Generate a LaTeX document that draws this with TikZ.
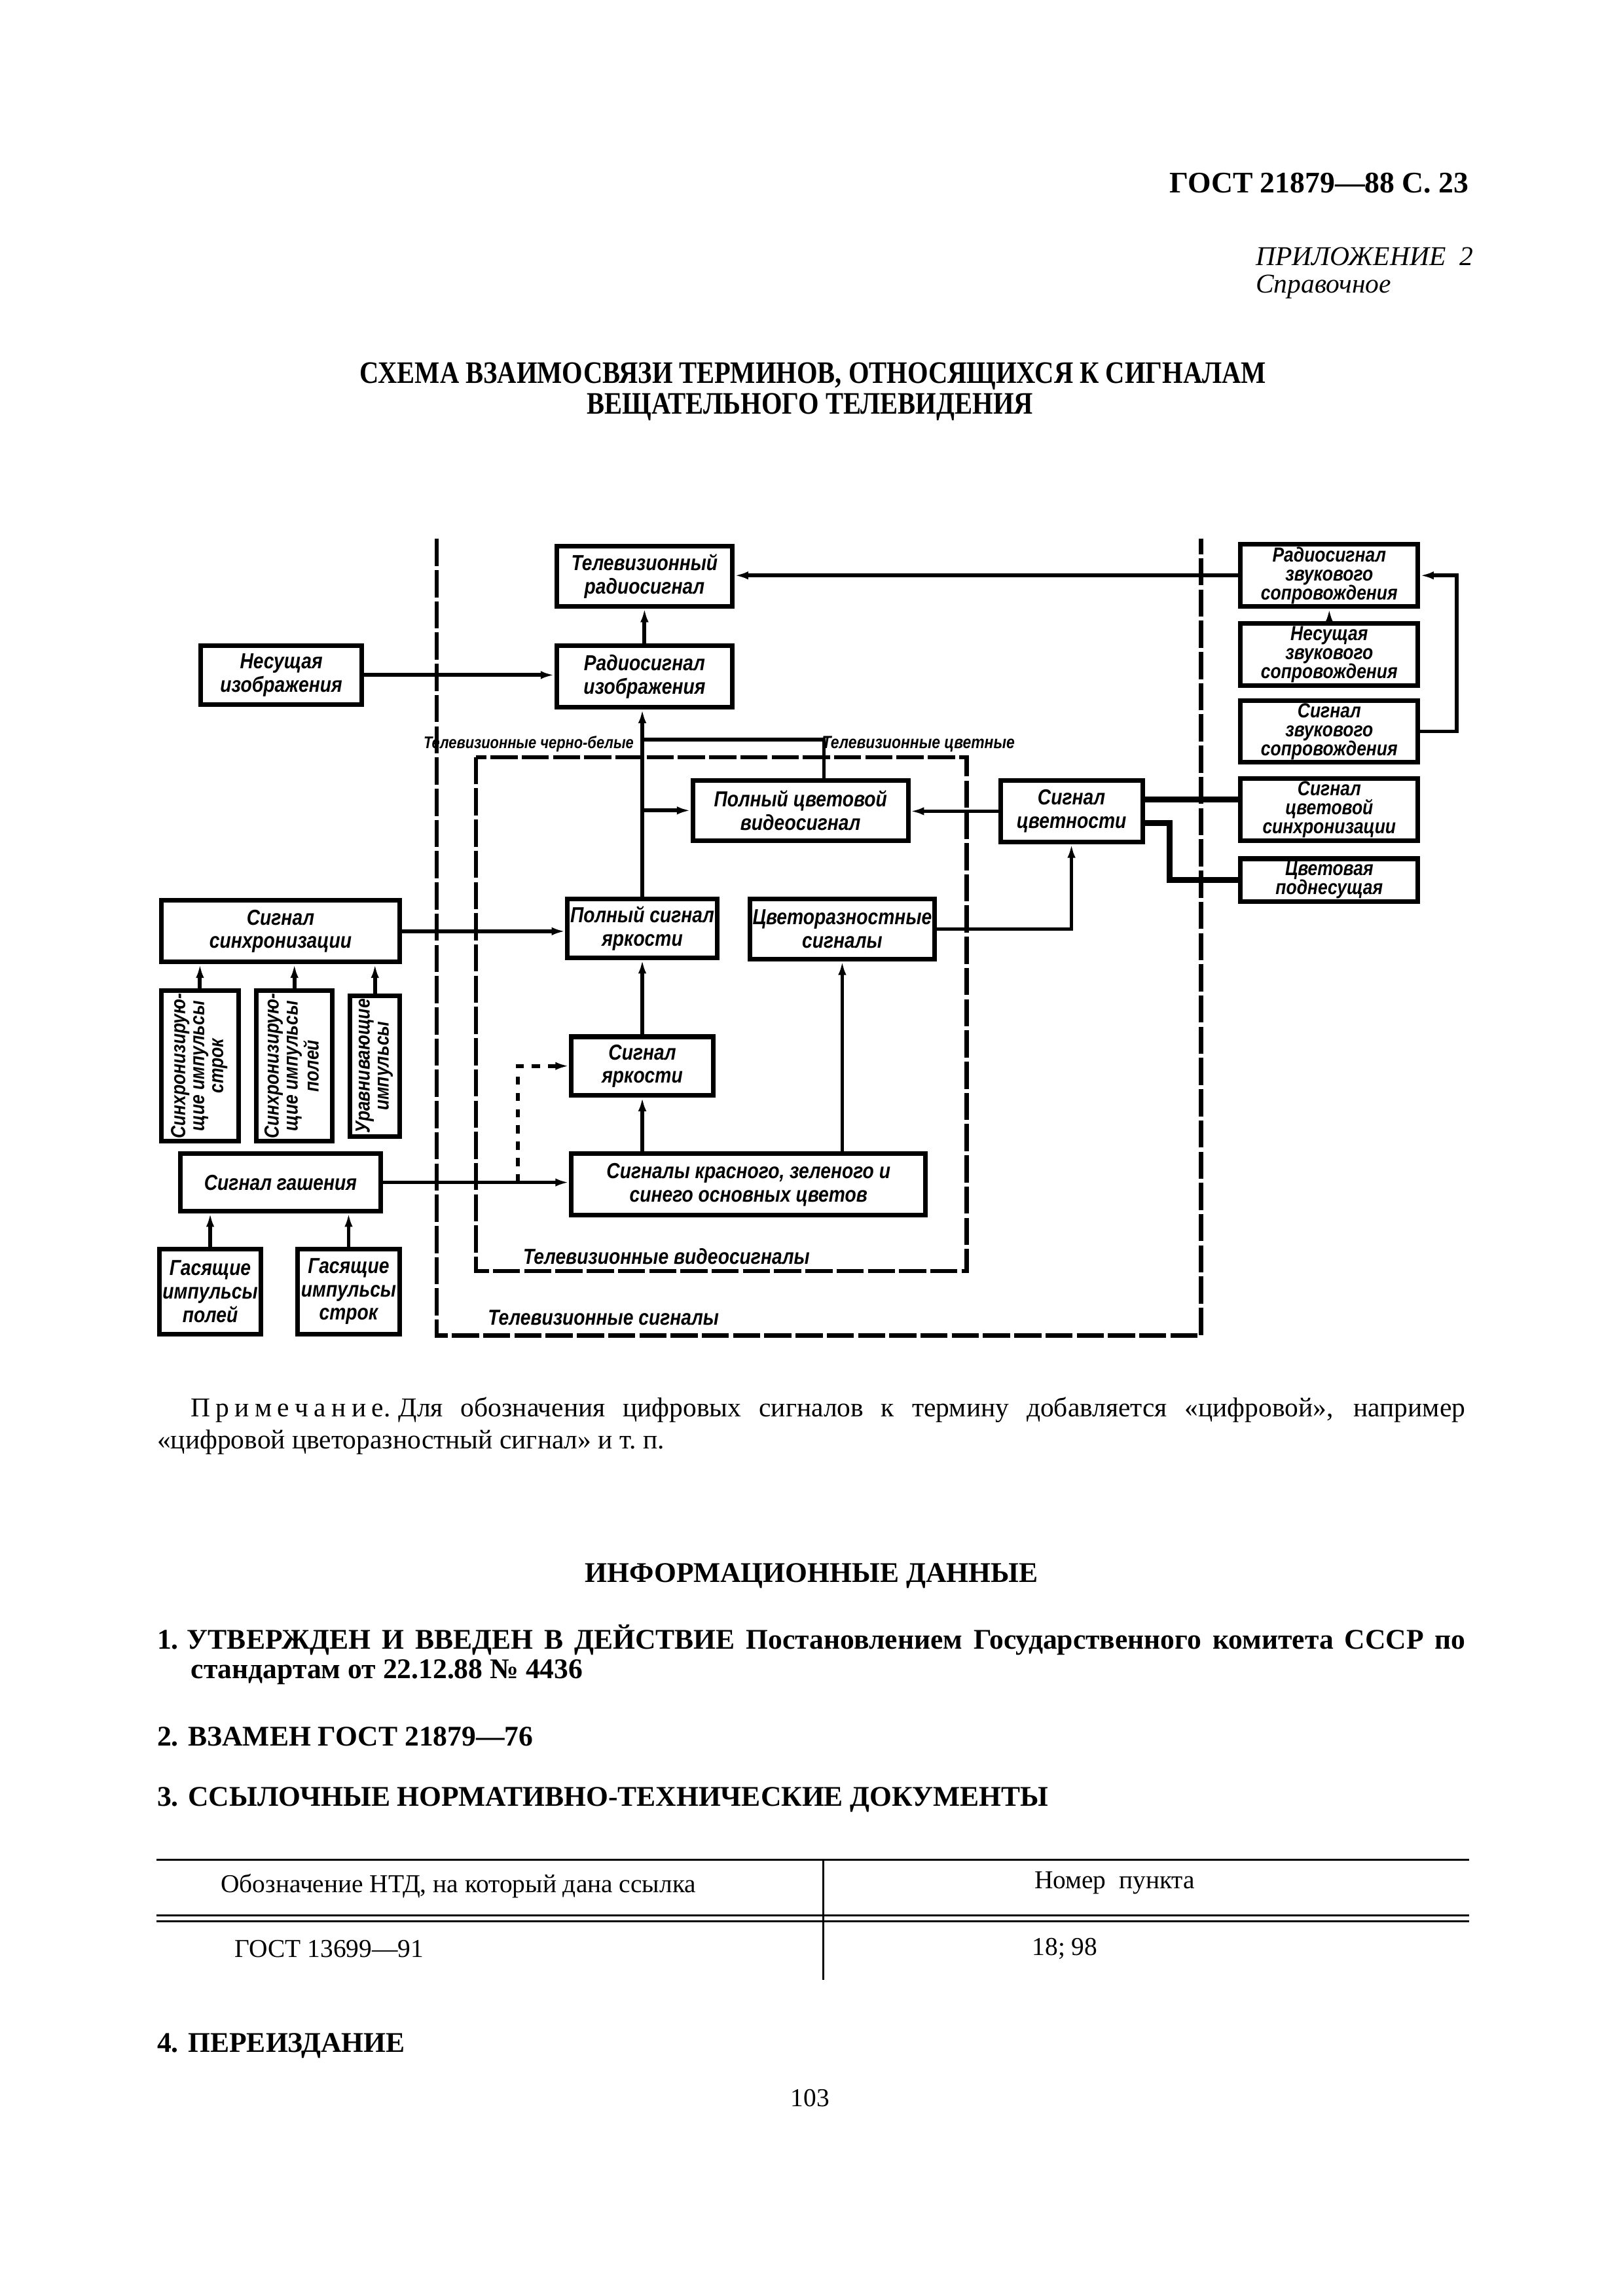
\documentclass[tikz,border=0pt]{standalone}
\usepackage{fontspec}
\setmainfont{Liberation Serif}
\newfontfamily\diagfont[FakeStretch=0.85]{Liberation Sans}
\newfontfamily\titlefont[FakeStretch=0.85]{Liberation Serif}
\usetikzlibrary{arrows.meta,calc}
\newcommand{\pxu}{0.018953cm}

\begin{document}
\begin{tikzpicture}[x=0.018953cm, y=-0.018953cm,
  box/.style={draw, line width=1.7pt, inner sep=1pt, align=center,
    font=\diagfont\bfseries\itshape\fontsize{8}{8.6}\selectfont},
  tight/.style={font=\diagfont\bfseries\itshape\fontsize{7.5}{7}\selectfont},
  sz/.style 2 args={minimum width=#1*\pxu, minimum height=#2*\pxu},
  link/.style={line width=1.4pt},
  arr/.style={link, -{Latex[length=5pt,width=3pt]}},
  heavy/.style={line width=2.2pt},
  frame/.style={line width=1.5pt, dash pattern=on 10pt off 1.5pt},
  lbl/.style={inner sep=0pt, font=\diagfont\bfseries\itshape\fontsize{8}{8}\selectfont},
  page/.style={inner sep=0pt, font=\fontsize{9.5}{11.5}\selectfont},
  head/.style={inner sep=0pt, font=\bfseries\fontsize{10.5}{12}\selectfont}]
  \useasboundingbox (0,0) rectangle (1108,1568);

  % шапка страницы
  \node[head, anchor=east, font=\bfseries\fontsize{11}{13}\selectfont] (gost) at (1003,125) {ГОСТ 21879—88 С. 23};
  \node[page, anchor=west, font=\itshape\fontsize{10}{12}\selectfont] (annex) at (857,175) {ПРИЛОЖЕНИЕ~~2};
  \node[page, anchor=west, font=\itshape\fontsize{10}{12}\selectfont] (refer) at (857,196) {Справочное};
  \node[inner sep=0pt, font=\titlefont\bfseries\fontsize{11.5}{13}\selectfont] (title1) at (555,257) {СХЕМА ВЗАИМОСВЯЗИ ТЕРМИНОВ, ОТНОСЯЩИХСЯ К СИГНАЛАМ};
  \node[inner sep=0pt, font=\titlefont\bfseries\fontsize{11.5}{13}\selectfont] (title2) at (553,278) {ВЕЩАТЕЛЬНОГО ТЕЛЕВИДЕНИЯ};

  % рамки
  \draw[frame] (298,368) -- (298,912) -- (820,912) -- (820,368);
  \draw[frame] (325,517) rectangle (660,868);
  \node[lbl, anchor=east, font=\diagfont\bfseries\itshape\fontsize{6.2}{7}\selectfont] (bwlbl) at (433,508) {Телевизионные черно-белые};
  \node[lbl, font=\diagfont\bfseries\itshape\fontsize{6.5}{7}\selectfont] (collbl) at (627,508) {Телевизионные цветные};
  \node[lbl] (vidlbl) at (455,858) {Телевизионные видеосигналы};
  \node[lbl] (siglbl) at (412,900) {Телевизионные сигналы};

  % блоки
  \node[box, sz={120}{41}] (tvradio) at (440,393.5) {Телевизионный\\радиосигнал};
  \node[box, sz={110}{40}] (carrier) at (192,461) {Несущая\\изображения};
  \node[box, sz={120}{42}] (radioimg) at (440,462) {Радиосигнал\\изображения};
  \node[box, sz={147}{41}] (fullcol) at (546.5,553.5) {Полный цветовой\\видеосигнал};
  \node[box, sz={97}{42}] (chroma) at (731.5,554) {Сигнал\\цветности};
  \node[box, sz={163}{42}] (sync) at (191.5,636) {Сигнал\\синхронизации};
  \node[box, sz={97}{40}] (fulllum) at (438.5,634) {Полный сигнал\\яркости};
  \node[box, sz={126}{41}] (diff) at (575,634.5) {Цветоразностные\\сигналы};
  \node[box, tight, sz={53}{96}] (hsync) at (136.5,728) {\rotatebox{90}{\begin{tabular}{@{}c@{}}Синхронизирую-\\щие импульсы\\строк\end{tabular}}};
  \node[box, tight, sz={52}{96}] (vsync) at (201,728) {\rotatebox{90}{\begin{tabular}{@{}c@{}}Синхронизирую-\\щие импульсы\\полей\end{tabular}}};
  \node[box, tight, sz={34}{96}] (equal) at (256,728) {\rotatebox{90}{\begin{tabular}{@{}c@{}}Уравнивающие\\импульсы\end{tabular}}};
  \node[box, sz={97}{40}] (lum) at (438.5,728) {Сигнал\\яркости};
  \node[box, sz={137}{39}] (blank) at (191.5,807.5) {Сигнал гашения};
  \node[box, sz={242}{42}] (rgb) at (511,809) {Сигналы красного, зеленого и\\синего основных цветов};
  \node[box, sz={69}{58}] (vblank) at (143.5,882) {Гасящие\\импульсы\\полей};
  \node[box, sz={70}{58}] (hblank) at (238,882) {Гасящие\\импульсы\\строк};
  \node[box, tight, sz={121}{40}] (snd1) at (907.5,393) {Радиосигнал\\звукового\\сопровождения};
  \node[box, tight, sz={121}{42}] (snd2) at (907.5,447) {Несущая\\звукового\\сопровождения};
  \node[box, tight, sz={121}{41}] (snd3) at (907.5,499.5) {Сигнал\\звукового\\сопровождения};
  \node[box, tight, sz={121}{42}] (colsync) at (907.5,553) {Сигнал\\цветовой\\синхронизации};
  \node[box, tight, sz={121}{28}] (subcar) at (907.5,601) {Цветовая\\поднесущая};

  % связи
  \draw[arr] (snd1.west) -- (snd1.west -| tvradio.east);
  \draw[arr] (snd2.north) -- (snd1.south);
  \draw[arr] (snd3.east) -- ++(25,0) |- (snd1.east);
  \draw[arr] (radioimg.north) -- (tvradio.south);
  \draw[arr] (carrier.east) -- (carrier.east -| radioimg.west);
  \draw[arr] (fulllum.north) -- (fulllum.north |- radioimg.south);
  \coordinate (jn) at (fulllum.north |- 0,505);
  \draw[link] ($(fullcol.north)+(16,0)$) |- (jn);
  \draw[arr] (fullcol.west -| fulllum.north) -- (fullcol.west);
  \draw[arr] (chroma.west) -- (chroma.west -| fullcol.east);
  \coordinate (cup) at ($(chroma.east)+(0,-8)$);
  \coordinate (cdn) at ($(chroma.east)+(0,8)$);
  \draw[heavy] (cup) -- (cup -| colsync.west);
  \draw[heavy] (cdn) -- ++(17,0) |- (subcar.west);
  \draw[arr] (diff.east) -| (chroma.south);
  \draw[arr] (sync.east) -- (sync.east -| fulllum.west);
  \draw[arr] (lum.north) -- (fulllum.south);
  \draw[arr] (lum.south |- rgb.north) -- (lum.south);
  \draw[arr] (diff.south |- rgb.north) -- (diff.south);
  \draw[arr] (blank.east) -- (blank.east -| rgb.west);
  \coordinate (dj) at ($(blank.east)+(92,0)$);
  \draw[arr, dashed] (dj) |- (lum.west);
  \foreach \n in {hsync,vsync,equal}
    \draw[arr] (\n.north) -- (\n.north |- sync.south);
  \foreach \n in {vblank,hblank}
    \draw[arr] (\n.north) -- (\n.north |- blank.south);

  % текст под схемой
  \node[page, anchor=west, font=\fontsize{10}{12}\selectfont] (note1) at (130,963) {\makebox[16.49cm][s]{П\kern.2em р\kern.2em и\kern.2em м\kern.2em е\kern.2em ч\kern.2em а\kern.2em н\kern.2em и\kern.2em е.\kern.3em Для обозначения цифровых сигналов к термину добавляется «цифровой», например}};
  \node[page, anchor=west, font=\fontsize{10}{12}\selectfont] (note2) at (107,985) {«цифровой цветоразностный сигнал» и т.~п.};
  \node[head] (info) at (554,1076) {ИНФОРМАЦИОННЫЕ ДАННЫЕ};
  \node[head, anchor=west] (item1a) at (107,1120) {\makebox[16.93cm][s]{1.\kern.3em УТВЕРЖДЕН И ВВЕДЕН В ДЕЙСТВИЕ Постановлением Государственного комитета СССР по}};
  \node[head, anchor=west] (item1b) at (130,1142) {стандартам от 22.12.88 № 4436};
  \node[head, anchor=west] (item2) at (107,1186) {2. ВЗАМЕН ГОСТ 21879—76};
  \node[head, anchor=west] (item3) at (107,1229) {3. ССЫЛОЧНЫЕ НОРМАТИВНО-ТЕХНИЧЕСКИЕ ДОКУМЕНТЫ};

  % таблица
  \draw[line width=0.6pt] (107,1270) -- (1003,1270);
  \draw[line width=0.6pt] (107,1308) -- (1003,1308);
  \draw[line width=0.6pt] (107,1312) -- (1003,1312);
  \draw[line width=0.6pt] (562,1270) -- (562,1352);
  \node[page] (th1) at (313,1288) {Обозначение НТД, на который дана ссылка};
  \node[page] (th2) at (761,1286) {Номер~~пункта};
  \node[page, anchor=west] (td1) at (160,1331) {ГОСТ 13699—91};
  \node[page] (td2) at (727,1331) {18; 98};

  \node[head, anchor=west] (item4) at (107,1397) {4. ПЕРЕИЗДАНИЕ};
  \node[page] (pageno) at (553,1433) {103};
\end{tikzpicture}
\end{document}
